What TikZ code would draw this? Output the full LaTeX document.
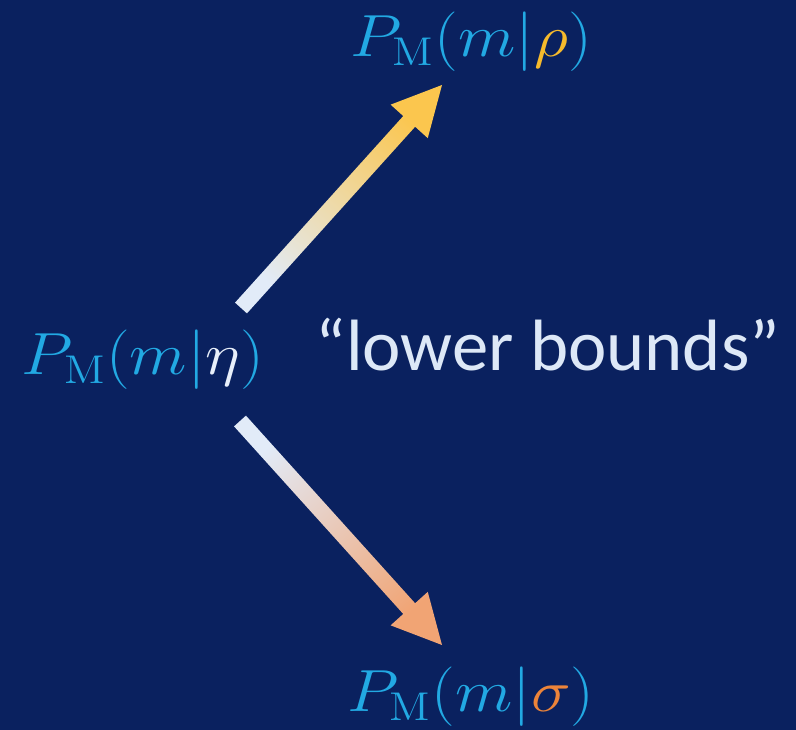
\documentclass[tikz,border=0pt]{standalone}
\usepackage{fontspec}
\setsansfont{Carlito}
\usetikzlibrary{calc}
\definecolor{bg}{HTML}{0A215F}
\definecolor{cyantext}{HTML}{22A9E3}
\definecolor{rhoc}{HTML}{F6BA2C}
\definecolor{sigmac}{HTML}{EC843A}
\definecolor{etac}{HTML}{E8EFFA}
\definecolor{lbc}{HTML}{DDE8F7}
\definecolor{tailc}{HTML}{E2EBF8}
\definecolor{upc}{HTML}{FBC64E}
\definecolor{downc}{HTML}{F1A474}
\tikzset{
  mathlabel/.style={text=cyantext, inner sep=0pt, font=\fontsize{20}{24}\selectfont, xscale=2.42, yscale=2.15, transform shape},
  plainlabel/.style={text=lbc, inner sep=0pt, font=\sffamily\fontsize{54.5}{64}\selectfont},
}
\newcommand{\fatarrow}[4]{%
  % #1 tail, #2 tip, #3 colour at tip, #4 shading angle
  \path[top color=#3, bottom color=tailc, shading angle=#4]
    ($(#1)!6pt!90:(#2)$) --
    ($($(#2)!36.75pt!(#1)$)!6pt!-90:(#1)$) --
    ($($(#2)!36.75pt!(#1)$)!18.75pt!-90:(#1)$) --
    (#2) --
    ($($(#2)!36.75pt!(#1)$)!18.75pt!90:(#1)$) --
    ($($(#2)!36.75pt!(#1)$)!6pt!90:(#1)$) --
    ($(#1)!6pt!-90:(#2)$) -- cycle;}
\begin{document}
\begin{tikzpicture}[x=0.75pt,y=-0.75pt]
  \fill[bg] (0,0) rectangle (796,730);
  \useasboundingbox (0,0) rectangle (796,730);
  \node[mathlabel] (rho) at (471,42) {$P_{\mathrm{M}}(m|\textcolor{rhoc}{\rho})$};
  \node[mathlabel] (eta) at (143,360) {$P_{\mathrm{M}}(m|\textcolor{etac}{\eta})$};
  \node[mathlabel] (sigma) at (471,697) {$P_{\mathrm{M}}(m|\textcolor{sigmac}{\sigma})$};
  \node[plainlabel] (lb) at (548,345) {“lower bounds”};
  \coordinate (uptail) at (241,308);
  \coordinate (uptip) at (442,85);
  \coordinate (dntail) at (240,421);
  \coordinate (dntip) at (442,645);
  \fatarrow{uptail}{uptip}{upc}{-42}
  \fatarrow{dntail}{dntip}{downc}{-138}
\end{tikzpicture}
\end{document}
